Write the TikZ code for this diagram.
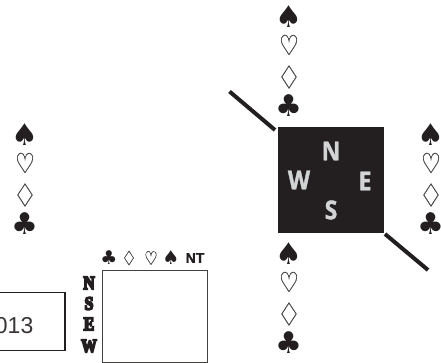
\documentclass[tikz,border=0pt]{standalone}
\usepackage{fontspec}
\setmainfont{Liberation Sans}
\newfontfamily\suitfont{DejaVu Sans}
\newfontfamily\heartfont[FakeStretch=.8,FakeBold=.3]{DejaVu Sans}
\newfontfamily\diamondfont[FakeStretch=.85,FakeBold=.3]{DejaVu Sans}
\newfontfamily\compassfont[FakeBold=1.4,FakeStretch=.88]{Open Sans}
\newfontfamily\fatfont[FakeBold=9,FakeStretch=.82]{Liberation Serif}
\newfontfamily\heavyfont[FakeBold=1.5]{Liberation Sans}
\definecolor{ink}{HTML}{231F20}
\definecolor{pale}{HTML}{D1D3D4}
\tikzset{
  x=1pt,y=-1pt,
  suitblack/.style={inner sep=0,text=ink,font=\suitfont\fontsize{30}{30}\selectfont},
  suitheart/.style={inner sep=0,text=ink!85,font=\heartfont\fontsize{28}{28}\selectfont},
  suitwhite/.style={inner sep=0,text=ink!85,font=\diamondfont\fontsize{32}{32}\selectfont},
  smallblack/.style={inner sep=0,text=ink,font=\suitfont\fontsize{19}{19}\selectfont},
  smallheart/.style={inner sep=0,text=ink!85,font=\heartfont\fontsize{19}{19}\selectfont},
  smallwhite/.style={inner sep=0,text=ink!85,font=\diamondfont\fontsize{20}{20}\selectfont},
  compass/.style={inner sep=0,text=pale,font=\compassfont\bfseries\fontsize{26}{26}\selectfont},
  fatletter/.style={inner sep=0,text=ink,font=\fatfont\bfseries\fontsize{19}{19}\selectfont},
  slash/.style={draw=ink,line width=4pt},
}
\newcommand{\suitcolumn}[3]{%
  \node[suitblack] (#1s) at (#2,#3) {♠};
  \node[suitheart] (#1h) at (#2,#3+28) {♡};
  \node[suitwhite] (#1d) at (#2,#3+60) {♢};
  \node[suitblack] (#1c) at (#2,#3+89) {♣};
}
\begin{document}
\begin{tikzpicture}
\useasboundingbox (0,0) rectangle (441,363);
\clip (0,0) rectangle (441,363);
\suitcolumn{a}{289}{17}
\suitcolumn{b}{431}{135}
\suitcolumn{c}{289}{254}
\suitcolumn{d}{25}{135}
\node[fill=ink,minimum size=106pt,inner sep=0] (board) at (331,180) {};
\node[compass] (n) at (331,151) {N};
\node[compass] (w) at (299,180) {W};
\node[compass] (e) at (365,181) {E};
\node[compass] (s) at (331,210) {S};
\coordinate (nw1) at (229.5,91.5);
\coordinate (nw2) at (275,130);
\coordinate (se1) at (385,234);
\coordinate (se2) at (428,270);
\draw[slash] (nw1) -- (nw2);
\draw[slash] (se1) -- (se2);
\node[draw=ink,line width=1.5pt,minimum width=100pt,minimum height=58pt,inner sep=0] (year) at (15,321.5) {};
\node[inner sep=0,text=ink!90,font=\fontsize{23}{23}\selectfont,anchor=east] (yeartext) at (33.5,325.5) {013};
\node[draw=ink!85,line width=1pt,minimum width=105pt,minimum height=92pt,inner sep=0] (score) at (154.5,316) {};
\node[smallblack] (hc) at (109,258) {♣};
\node[smallwhite] (hd) at (129,258) {♢};
\node[smallheart] (hh) at (151,258) {♡};
\node[smallblack] (hs) at (171,258) {♠};
\node[inner sep=0,text=ink,font=\heavyfont\bfseries\fontsize{14}{14}\selectfont] (nt) at (195,258) {NT};
\node[fatletter] (fn) at (89,283) {N};
\node[fatletter] (fs) at (89,303.5) {S};
\node[fatletter] (fe) at (89,324) {E};
\node[fatletter] (fw) at (89,346) {W};
\end{tikzpicture}
\end{document}
